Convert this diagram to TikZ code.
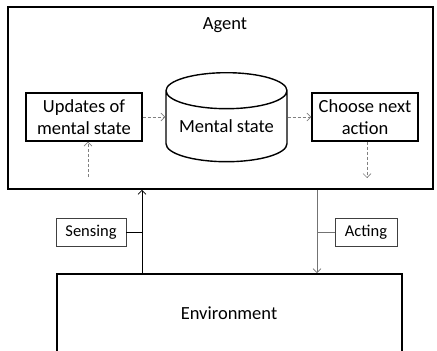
\documentclass[tikz,border=0pt]{standalone}
\usepackage{fontspec}
\setmainfont{Carlito}
\usetikzlibrary{positioning,shapes.geometric,arrows.meta}

\tikzset{
  >={Straight Barb[length=4pt, width=8pt]},
  bigbox/.style={rectangle, draw, line width=1.6pt, inner sep=0pt},
  stepbox/.style={rectangle, draw, line width=1.4pt, align=center, inner sep=0pt,
    font=\fontsize{18.5}{22}\selectfont},
  store/.style={cylinder, shape border rotate=90, draw, line width=1.4pt, aspect=0.38,
    inner sep=0pt, font=\fontsize{18.5}{22}\selectfont},
  tag/.style={rectangle, draw=black!75, line width=0.6pt, inner sep=0pt,
    font=\fontsize{16.5}{20}\selectfont},
  flow/.style={->, draw=black!50, line width=0.7pt, dash pattern=on 3pt off 2pt},
  link/.style={line width=0.7pt}
}

\begin{document}
\begin{tikzpicture}[x=1pt, y=-1pt]
			\useasboundingbox (0,0) rectangle (437,351);
			
			% Agent and environment
			\node[bigbox, minimum width=425pt, minimum height=182pt] (agent) at (220.5,98) {};
			\node[font=\fontsize{18.5}{22}\selectfont] (agentlbl) at (225,25) {Agent};
			\node[bigbox, minimum width=345pt, minimum height=140pt] (env) at (229.5,344) {};
			\node[font=\fontsize{18.5}{22}\selectfont] (envlbl) at (229,313) {Environment};
			
			% Inside the agent
			\node[stepbox, minimum width=116pt, minimum height=48pt] (upd) at (84,117) {Updates of\\mental state};
			\node[store, minimum width=121pt, minimum height=89pt, anchor=north] (mem) at (226.5,72) {Mental state};
			\node[stepbox, minimum width=106pt, minimum height=48pt] (choose) at (365,117) {Choose next\\action};
			
			% Free ends of the inner arrows
			\coordinate (percept) at (88,177);
			\coordinate (action) at (367,178);
			
			\draw[flow] (upd.east) -- (upd.east -| mem.west);
			\draw[flow] (choose.west -| mem.east) -- (choose.west);
			\draw[flow] (percept) -- (percept |- upd.south);
			\draw[flow] (action |- choose.south) -- (action);
			
			% Sensing and acting
			\node[tag, minimum width=70pt, minimum height=28pt] (sensing) at (91,232) {Sensing};
			\node[tag, minimum width=62pt, minimum height=28pt] (acting) at (366,232) {Acting};
			\coordinate (sensx) at (142,232);
			\coordinate (actx) at (317,232);
			
			\draw[link, ->] (sensx |- env.north) -- (sensx |- agent.south);
			\draw[link, ->, draw=black!55] (actx |- agent.south) -- (actx |- env.north);
			\draw[link] (sensing.east) -- (sensx);
			\draw[link, draw=black!55] (actx) -- (acting.west);
		\end{tikzpicture}
\end{document}
